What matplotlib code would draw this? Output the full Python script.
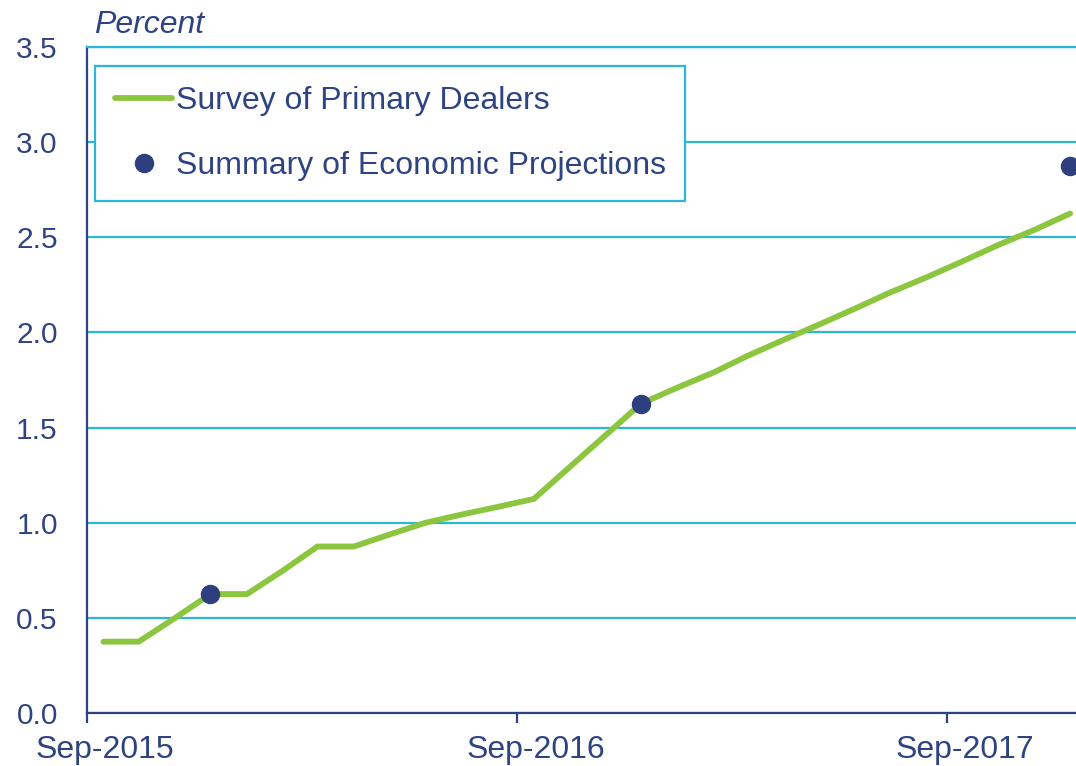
import matplotlib
matplotlib.use("Agg")
import matplotlib.pyplot as plt
import matplotlib.transforms as mtransforms
import pandas as pd

# monthly expected path (survey), mid-month
survey_months = pd.period_range("2015-09", "2017-12", freq="M")
survey_rate = [0.375, 0.375, 0.5, 0.625, 0.625, 0.75, 0.875, 0.875, 0.9375, 1.0,
               1.042, 1.083, 1.125, 1.29, 1.46, 1.625, 1.71, 1.79, 1.875, 1.96,
               2.04, 2.125, 2.21, 2.29, 2.375, 2.46, 2.54, 2.625]

# SEP median projections (December of each year)
sep_months = pd.PeriodIndex(["2015-12", "2016-12", "2017-12"], freq="M")
sep_rate = [0.625, 1.625, 2.875]

tick_dates = ["2015-09-01", "2016-09-01", "2017-09-01"]
tick_labels = ["Sep-2015", "Sep-2016", "Sep-2017"]

navy = "#2E4482"
dot_col = "#2E3F7E"
green = "#8CC63F"
cyan = "#2BB6DA"

plt.rcParams["font.family"] = ["Liberation Sans", "DejaVu Sans"]

x_survey = survey_months.to_timestamp() + pd.Timedelta(days=14)
x_sep = sep_months.to_timestamp() + pd.Timedelta(days=14)

fig = plt.figure(figsize=(10.76, 7.66), dpi=100)
ax = fig.add_axes([87 / 1076, 53 / 766, 989 / 1076, 666 / 766])

ax.plot(x_survey, survey_rate, color=green, lw=4.2, solid_capstyle="round",
        solid_joinstyle="miter", label="Survey of Primary Dealers", zorder=3)
ax.plot(x_sep, sep_rate, "o", color=dot_col, ms=13, clip_on=False,
        label="Summary of Economic Projections", zorder=4)

ax.set_ylim(0, 3.5)
ax.set_xlim(pd.Timestamp("2015-09-01"), pd.Timestamp("2017-12-20"))
ax.set_yticks([0, 0.5, 1.0, 1.5, 2.0, 2.5, 3.0, 3.5])
ax.set_yticklabels(["0.0", "0.5", "1.0", "1.5", "2.0", "2.5", "3.0", "3.5"])
ax.set_xticks(pd.to_datetime(tick_dates))
ax.set_xticklabels(tick_labels)

ax.grid(axis="y", color=cyan, lw=1.6, zorder=0)
ax.grid(axis="x", visible=False)
ax.spines["right"].set_visible(False)
ax.spines["top"].set_color(cyan)
ax.spines["top"].set_linewidth(1.6)
ax.spines["left"].set_color(navy)
ax.spines["left"].set_linewidth(1.6)
ax.spines["bottom"].set_color(navy)
ax.spines["bottom"].set_linewidth(1.6)

ax.tick_params(axis="y", length=0, pad=21, labelsize=21.5, labelcolor=navy)
ax.tick_params(axis="x", length=7, width=1.6, color=navy, pad=9,
               labelsize=23, labelcolor=navy)

# labels sit a bit right of their ticks
offset = mtransforms.ScaledTranslation(18 / 100, 0, fig.dpi_scale_trans)
for lab in ax.get_xticklabels():
    lab.set_transform(lab.get_transform() + offset)

ax.text(94 / 1076, 1 - 33 / 766, "Percent", transform=fig.transFigure,
        fontsize=23, style="italic", color=navy, va="baseline", ha="left")

leg = ax.legend(loc="upper left", bbox_to_anchor=(95 / 1076, 1 - 66 / 766),
                bbox_transform=fig.transFigure, borderaxespad=0, fontsize=23,
                frameon=True, fancybox=False, handlelength=1.8, handletextpad=0.1,
                labelspacing=1.1, borderpad=0.62, numpoints=1)
frame = leg.get_frame()
frame.set_edgecolor(cyan)
frame.set_linewidth(1.6)
frame.set_facecolor("white")
frame.set_alpha(1)
for t in leg.get_texts():
    t.set_color(navy)

fig.savefig("out.png", dpi=100)
